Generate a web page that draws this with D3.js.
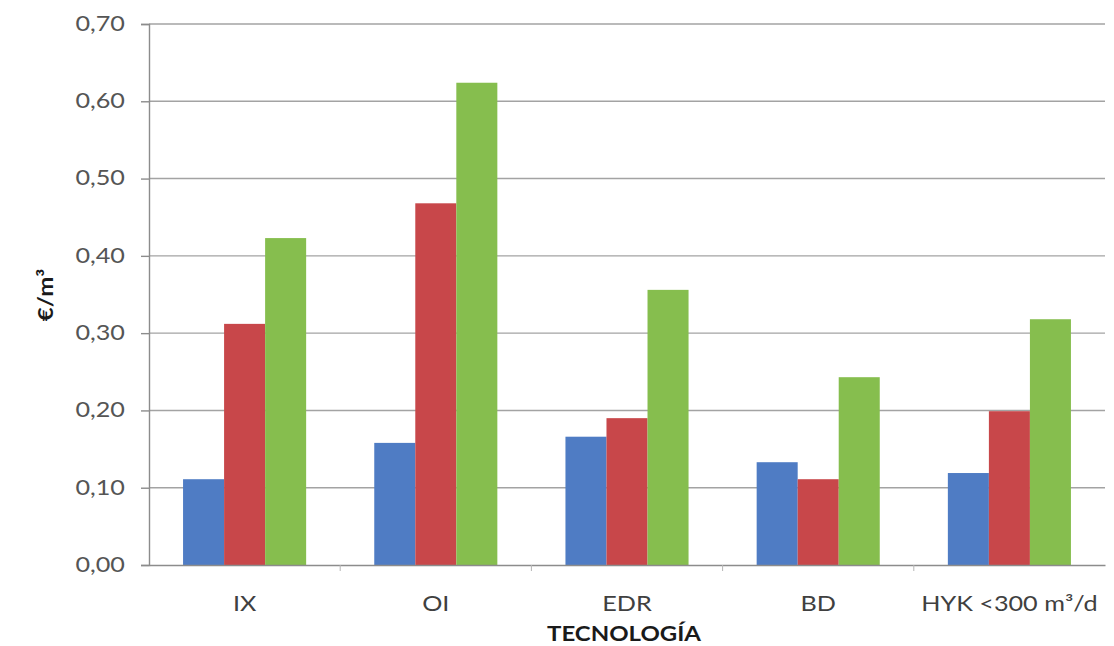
<!DOCTYPE html>
<html>
<head>
<meta charset="utf-8">
<script src="https://cdn.jsdelivr.net/npm/d3@7"></script>
<style>
  html, body { margin: 0; padding: 0; background: #ffffff; }
  svg { display: block; }
  text { font-family: Lato, "Open Sans", sans-serif; }
</style>
</head>
<body>
<svg id="chart" width="1114" height="646"></svg>
<script>
// Coste por tecnología (€/m³)
const categories = ["IX", "OI", "EDR", "BD", "HYK <300 m³/d"];
const serieA = [0.111, 0.158, 0.166, 0.133, 0.119];
const serieB = [0.312, 0.468, 0.190, 0.111, 0.199];
const serieC = [0.423, 0.624, 0.356, 0.243, 0.318];
const seriesNames = ["serieA", "serieB", "serieC"];
const seriesValues = [serieA, serieB, serieC];
const yTicks = [0, 0.1, 0.2, 0.3, 0.4, 0.5, 0.6, 0.7];
const yTitle = "€/m³";
const xTitle = "TECNOLOGÍA";

const colors = ["#4F7CC4", "#C8474A", "#86BE4E"];
const stretch = 1.2;

const svg = d3.select("#chart");
const plot = { left: 149, right: 1105, top: 24, bottom: 565 };

const x0 = d3.scaleBand().domain(categories).range([plot.left, plot.right]).paddingInner(0).paddingOuter(0);
const x1 = d3.scaleBand().domain(seriesNames).range([0, x0.bandwidth()]).paddingInner(0).paddingOuter(0.83);
const y = d3.scaleLinear().domain([0, 0.7]).range([plot.bottom, plot.top]);
const color = d3.scaleOrdinal().domain(seriesNames).range(colors);

const fmt = v => d3.format(".2f")(v).replace(".", ",");

// horizontal gridlines
svg.append("g")
  .selectAll("line")
  .data(yTicks.slice(1))
  .join("line")
  .attr("x1", plot.left).attr("x2", plot.right)
  .attr("y1", d => y(d)).attr("y2", d => y(d))
  .attr("stroke", "#A3A3A3").attr("stroke-width", 1.4);

// bars
const rows = categories.map((c, i) => ({ cat: c, vals: seriesNames.map((s, j) => ({ s, v: seriesValues[j][i] })) }));
svg.append("g")
  .selectAll("g")
  .data(rows)
  .join("g")
  .attr("transform", d => `translate(${x0(d.cat)},0)`)
  .selectAll("rect")
  .data(d => d.vals)
  .join("rect")
  .attr("x", d => x1(d.s))
  .attr("width", x1.bandwidth())
  .attr("y", d => y(d.v))
  .attr("height", d => y(0) - y(d.v))
  .attr("fill", d => color(d.s));

// y axis
const yAxis = d3.axisLeft(y).tickValues(yTicks).tickFormat(fmt).tickSize(8).tickPadding(16);
const gy = svg.append("g").attr("transform", `translate(${plot.left},0)`).call(yAxis);
gy.select(".domain").attr("stroke", "#8C8C8C").attr("stroke-width", 1.4);
gy.selectAll(".tick line").attr("stroke", "#8C8C8C").attr("stroke-width", 1.4);
gy.selectAll(".tick text")
  .attr("fill", "#555555")
  .attr("font-size", 21)
  .attr("dy", "0.3em")
  .each(function () {
    const t = d3.select(this);
    const xx = +t.attr("x");
    t.attr("x", null).attr("transform", `translate(${xx},0) scale(${stretch},1)`);
  });

// x axis
const xAxis = d3.axisBottom(x0).tickSize(0).tickPadding(40);
const gx = svg.append("g").attr("transform", `translate(0,${plot.bottom})`).call(xAxis);
gx.select(".domain").attr("stroke", "#8C8C8C").attr("stroke-width", 1.4);
gx.selectAll(".tick text")
  .attr("fill", "#404040")
  .attr("font-size", 21)
  .attr("dy", "0.3em")
  .each(function () {
    const t = d3.select(this);
    const yy = +t.attr("y");
    t.attr("y", null).attr("transform", `translate(0,${yy}) scale(${stretch},1)`);
  });
// category boundary marks
svg.append("g")
  .selectAll("line")
  .data(categories.slice(1))
  .join("line")
  .attr("x1", d => x0(d)).attr("x2", d => x0(d))
  .attr("y1", plot.bottom).attr("y2", plot.bottom + 6)
  .attr("stroke", "#B5B5B5").attr("stroke-width", 1);

// axis titles
svg.append("text")
  .attr("transform", `translate(53,295) rotate(-90) scale(${stretch},1)`)
  .attr("text-anchor", "middle")
  .attr("font-size", 20)
  .attr("font-weight", "bold")
  .attr("fill", "#1a1a1a")
  .text(yTitle);

svg.append("text")
  .attr("transform", `translate(624,641) scale(${stretch},1)`)
  .attr("text-anchor", "middle")
  .attr("font-size", 20)
  .attr("font-weight", "bold")
  .attr("fill", "#1a1a1a")
  .text(xTitle);
</script>
</body>
</html>
